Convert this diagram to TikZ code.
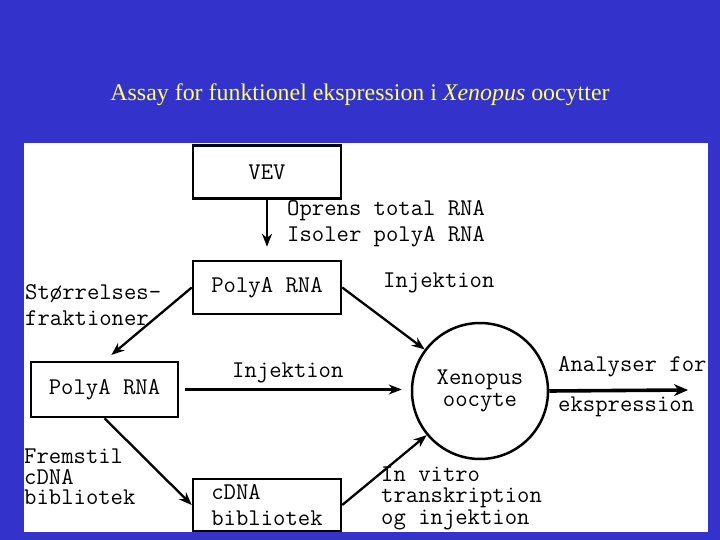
\documentclass[tikz,border=0pt]{standalone}
\usepackage{fontspec}
\setmainfont{Liberation Serif}
\usetikzlibrary{arrows.meta,calc}
\definecolor{bgblue}{RGB}{51,51,204}
\definecolor{ttlyellow}{RGB}{255,255,102}
\newcommand{\mymono}[1]{\ttfamily\fontsize{24}{#1}\selectfont}
\begin{document}
\begin{tikzpicture}[x=1pt,y=-1pt,
  mono/.style={font=\mymono{26}, inner sep=0pt},
  box/.style={draw, line width=2.5pt, fill=white, minimum width=148pt, minimum height=53pt, inner sep=0pt, mono},
  conn/.style={line width=2.3pt, -{Stealth[length=13pt,width=10pt]}},
]
\fill[bgblue] (0,0) rectangle (720,540);
\useasboundingbox (0,0) rectangle (720,540);
\fill[white] (24,143) rectangle (708,532);
\node[font=\fontsize{23.9}{28}\selectfont, text=ttlyellow, inner sep=0pt] (title) at (360,95) {Assay for funktionel ekspression i \textit{Xenopus} oocytter};

\node[box] (vev) at (267,172) {VEV};
\node[box] (top) at (267,287.5) {PolyA RNA};
\node[box, minimum width=147pt, minimum height=55pt] (left) at (104.5,389.5) {PolyA RNA};
\node[box, minimum height=52pt, align=left] (cdna) at (267,505) {cDNA\\bibliotek};
\node[draw, circle, line width=2.5pt, minimum size=136pt, inner sep=0pt, align=center,
      font=\mymono{21.5}] (circ) at (480,391) {Xenopus\\oocyte};

\node[mono, anchor=west, align=left] (oprens) at (287,224) {Oprens total RNA\\Isoler polyA RNA};
\node[mono, anchor=west, align=left] (stor) at (25,305) {Størrelses-\\fraktioner};
\node[mono, anchor=west] (inj1) at (383,283) {Injektion};
\node[mono, anchor=west] (inj2) at (232,373) {Injektion};
\node[font=\mymono{20.5}, inner sep=0pt, anchor=west, align=left] (frem) at (24,477) {Fremstil\\cDNA\\bibliotek};
\node[font=\mymono{21.5}, inner sep=0pt, anchor=west, align=left] (invitro) at (381,498) {In vitro\\transkription\\og injektion};
\node[mono, anchor=west] (anal) at (558,367) {Analyser for};
\node[mono, anchor=west] (eksp) at (558,407) {ekspression};

\coordinate (outend) at (688,390);

\draw[conn, shorten >=13pt] (vev) -- (top);
\draw[conn, shorten >=9pt] (top.west) -- (left.north);
\draw[conn] (left.south) -- (cdna.west);
\draw[conn] (top.east) -- (circ);
\draw[conn] (cdna.east) -- (circ);
\draw[conn, shorten <=6pt, shorten >=9pt] (left.east) -- (left.east -| circ.west);
\draw[line width=3.6pt, -{Stealth[length=14pt,width=12pt]}] (circ.east) -- (outend);
\end{tikzpicture}
\end{document}
